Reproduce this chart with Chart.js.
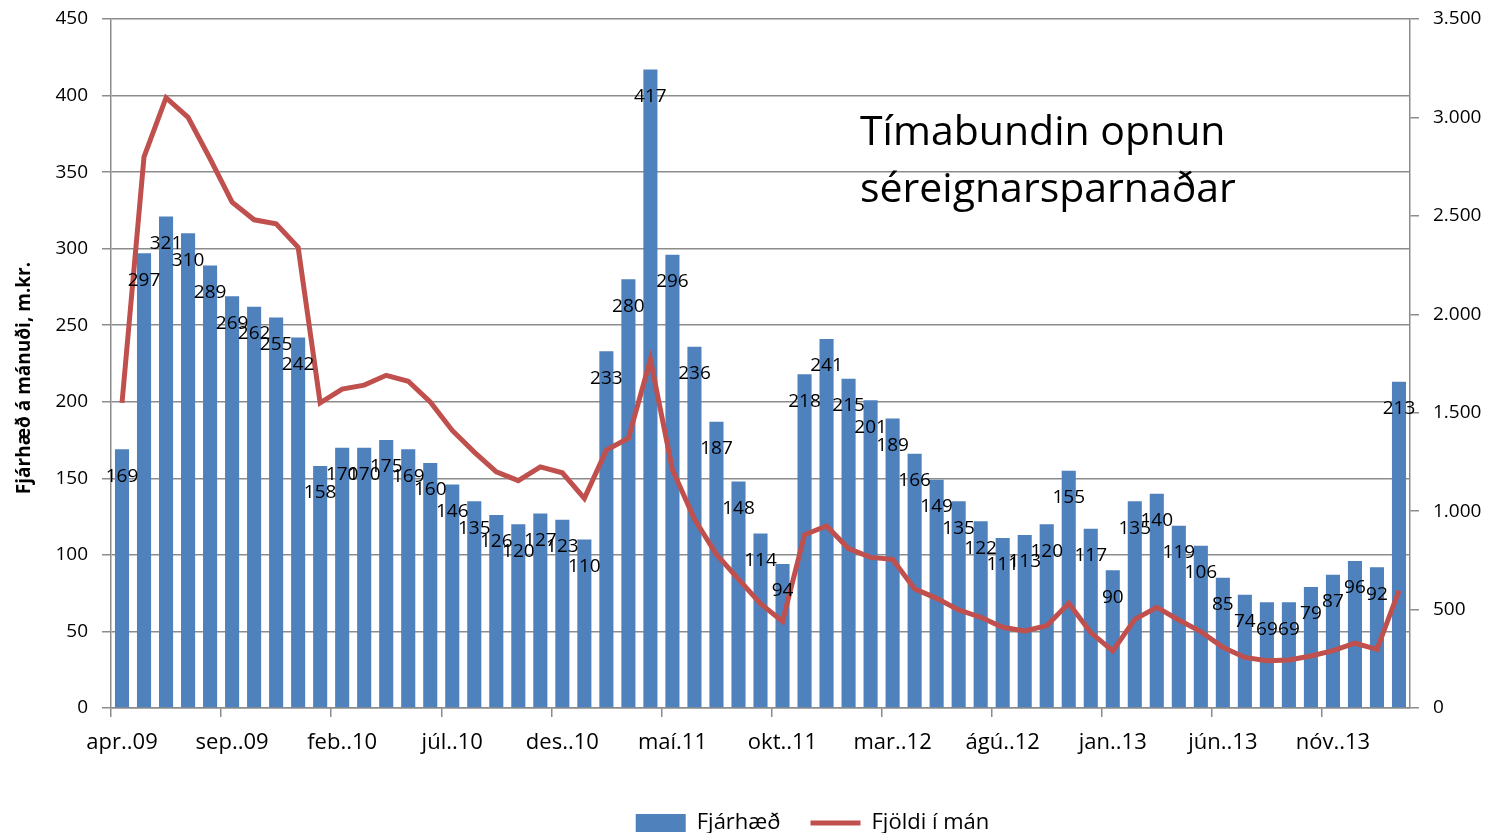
<!DOCTYPE html>
<html>
<head>
<meta charset="utf-8">
<script src="https://cdn.jsdelivr.net/npm/chart.js@4.4.1/dist/chart.umd.min.js"></script>
<style>
  html, body { margin: 0; padding: 0; background: #fff; }
  #wrap { position: relative; width: 1501px; height: 833px; }
  #note { position: absolute; left: 860px; top: 101px; font: 41px/57px "Open Sans", sans-serif; color: #000; white-space: nowrap; }
</style>
</head>
<body>
<div id="wrap">
  <canvas id="chart" width="1501" height="833"></canvas>
  <div id="note">Tímabundin opnun<br>séreignarsparnaðar</div>
</div>
<script>
const months = [
  "apr..09", "maí.09", "jún..09", "júl..09", "ágú..09", "sep..09", "okt..09", "nóv..09", "des..09",
  "jan..10", "feb..10", "mar..10", "apr..10", "maí.10", "jún..10", "júl..10", "ágú..10", "sep..10", "okt..10", "nóv..10", "des..10",
  "jan..11", "feb..11", "mar..11", "apr..11", "maí.11", "jún..11", "júl..11", "ágú..11", "sep..11", "okt..11", "nóv..11", "des..11",
  "jan..12", "feb..12", "mar..12", "apr..12", "maí.12", "jún..12", "júl..12", "ágú..12", "sep..12", "okt..12", "nóv..12", "des..12",
  "jan..13", "feb..13", "mar..13", "apr..13", "maí.13", "jún..13", "júl..13", "ágú..13", "sep..13", "okt..13", "nóv..13", "des..13",
  "jan..14", "feb..14"
];

// Fjárhæð á mánuði, m.kr. (left axis)
const amount = [
  169, 297, 321, 310, 289, 269, 262, 255, 242,
  158, 170, 170, 175, 169, 160, 146, 135, 126, 120, 127, 123,
  110, 233, 280, 417, 296, 236, 187, 148, 114, 94, 218, 241,
  215, 201, 189, 166, 149, 135, 122, 111, 113, 120, 155, 117,
  90, 135, 140, 119, 106, 85, 74, 69, 69, 79, 87, 96,
  92, 213
];

// Fjöldi í mánuði (right axis)
const count = [
  1550, 2800, 3100, 3000, 2790, 2570, 2480, 2460, 2340,
  1550, 1620, 1640, 1690, 1660, 1555, 1410, 1300, 1200, 1155, 1225, 1195,
  1065, 1310, 1370, 1770, 1210, 960, 780, 655, 530, 440, 880, 925,
  810, 765, 755, 605, 557, 498, 461, 410, 391, 418, 532, 383,
  290, 450, 511, 447, 388, 308, 257, 240, 244, 264, 291, 329,
  298, 596
];

const leftMax = 450, leftStep = 50;
const rightMax = 3500, rightStep = 500;
const labelEvery = 5;

const blue = "#4f81bd";
const red = "#c0504d";
const gridGray = "#8c8c8c";
const font = "'Open Sans', sans-serif";

const dotThousands = (v) => String(v).replace(/\B(?=(\d{3})+(?!\d))/g, ".");

// value labels on the bars, just under the top
const barLabels = {
  id: "barLabels",
  afterDatasetsDraw(chart) {
    const ctx = chart.ctx;
    const meta = chart.getDatasetMeta(0);
    ctx.save();
    ctx.font = "19px " + font;
    ctx.fillStyle = "#000";
    ctx.textAlign = "center";
    ctx.textBaseline = "middle";
    meta.data.forEach((bar, i) => {
      ctx.fillText(String(amount[i]), bar.x, bar.y + 27);
    });
    ctx.restore();
  },
};

// left axis title, a little below the middle like the original
const yTitle = {
  id: "yTitle",
  afterDraw(chart) {
    const ctx = chart.ctx;
    ctx.save();
    ctx.translate(25, 378);
    ctx.rotate(-Math.PI / 2);
    ctx.font = "bold 19px " + font;
    ctx.fillStyle = "#000";
    ctx.textAlign = "center";
    ctx.textBaseline = "middle";
    ctx.fillText("Fjárhæð á mánuði, m.kr.", 0, 0);
    ctx.restore();
  },
};

// the legend sits a bit right of the page centre
const legendShift = {
  id: "legendShift",
  afterLayout(chart) {
    chart.legend.left += 62;
    chart.legend.right += 62;
  },
};

// fixed axis sizes so the plot area lands where the original has it
const sideAxis = (w) => (s) => {
  s.width = w;
  s.paddingTop = 0;
  s.paddingBottom = 0;
};

new Chart(document.getElementById("chart").getContext("2d"), {
  data: {
    labels: months,
    datasets: [
      {
        type: "bar",
        label: "Fjárhæð",
        data: amount,
        backgroundColor: blue,
        borderWidth: 0,
        barPercentage: 0.64,
        categoryPercentage: 1,
        yAxisID: "y",
        pointStyle: "rect",
        order: 1,
      },
      {
        type: "line",
        label: "Fjöldi í mán",
        data: count,
        borderColor: red,
        backgroundColor: red,
        borderWidth: 5,
        pointRadius: 0,
        tension: 0,
        yAxisID: "y1",
        pointStyle: "line",
        order: 0,
      },
    ],
  },
  options: {
    responsive: false,
    animation: false,
    devicePixelRatio: 1,
    layout: { padding: { top: 19, left: 0, right: 0, bottom: -11 } },
    plugins: {
      tooltip: { enabled: false },
      legend: {
        position: "bottom",
        labels: {
          usePointStyle: true,
          pointStyleWidth: 50,
          boxHeight: 18,
          padding: 30,
          color: "#000",
          font: { family: font, size: 22 },
          sort: (a, b) => a.datasetIndex - b.datasetIndex,
        },
      },
    },
    scales: {
      x: {
        offset: true,
        afterFit: (s) => { s.height = 74; },
        grid: {
          offset: true,
          drawOnChartArea: false,
          color: (c) => (c.index % labelEvery === 0 ? gridGray : "rgba(0,0,0,0)"),
          lineWidth: 1.5,
          tickLength: 9,
        },
        border: { color: gridGray, width: 1.5 },
        ticks: {
          autoSkip: false,
          maxRotation: 0,
          padding: 13,
          color: "#000",
          font: { family: font, size: 22 },
          callback: (v, i) => (i % labelEvery === 0 ? months[i] : ""),
        },
      },
      y: {
        position: "left",
        min: 0,
        max: leftMax,
        afterFit: sideAxis(111),
        grid: { color: gridGray, lineWidth: 1.5, tickLength: 9 },
        border: { color: gridGray, width: 1.5 },
        ticks: { stepSize: leftStep, padding: 14, color: "#000", font: { family: font, size: 19 } },
      },
      y1: {
        position: "right",
        min: 0,
        max: rightMax,
        afterFit: sideAxis(91),
        grid: { drawOnChartArea: false, color: gridGray, lineWidth: 1.5, tickLength: 9 },
        border: { color: gridGray, width: 1.5 },
        ticks: {
          stepSize: rightStep,
          padding: 14,
          color: "#000",
          font: { family: font, size: 19 },
          callback: (v) => dotThousands(v),
        },
      },
    },
  },
  plugins: [barLabels, yTitle, legendShift],
});
</script>
</body>
</html>
